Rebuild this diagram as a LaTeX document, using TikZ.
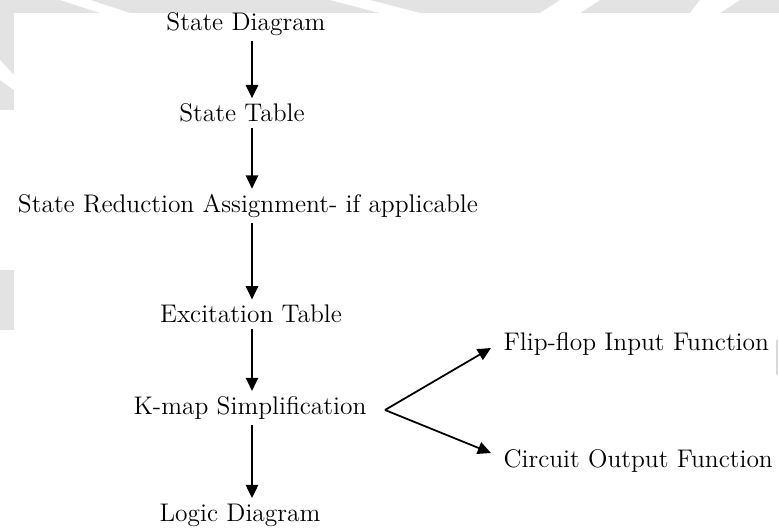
\documentclass[tikz,border=0pt]{standalone}
\usepackage{tikz}
\usetikzlibrary{arrows.meta}

\begin{document}
\begin{tikzpicture}[x=0.02cm,y=-0.02cm,
    lbl/.style={font=\fontsize{14.5}{17}\selectfont, inner sep=3pt},
    arr/.style={line width=1pt, -{Triangle[length=7.5pt,width=7pt]}}]
% background, with the faint watermark on the top and left edges
\fill[white] (0,0) rectangle (779,528);
\fill[gray!22] (0,0) rectangle (779,13);
\fill[gray!22] (0,0) rectangle (14,330);
\fill[white] (60,0) -- (90,0) -- (130,13) -- (100,13) -- cycle;
\fill[white] (330,0) -- (370,0) -- (420,13) -- (380,13) -- cycle;
\fill[white] (560,0) -- (600,0) -- (580,13) -- (540,13) -- cycle;
\fill[white] (700,0) -- (740,0) -- (720,13) -- (690,13) -- cycle;
\fill[white] (0,110) rectangle (14,270);
\fill[white] (0,60) -- (14,75) -- (14,90) -- (0,80) -- cycle;
\draw[gray!30, line width=1pt] (777,340) -- (777,375);

\node[lbl] (sd) at (246,24) {State Diagram};
\node[lbl] (st) at (242,113) {State Table};
\node[lbl] (sr) at (248,206) {State Reduction Assignment- if applicable};
\node[lbl] (et) at (251,314) {Excitation Table};
\node[lbl] (km) at (250,408) {K-map Simplification};
\node[lbl] (ld) at (240,515) {Logic Diagram};
\node[lbl, anchor=west] (ff) at (498,344) {Flip-flop Input Function};
\node[lbl, anchor=west] (co) at (498,461) {Circuit Output Function};

\coordinate (col) at (252,0);
\coordinate (fork) at (385,410);

\draw[arr] (sd.south -| col) -- (st.north -| col);
\draw[arr] (st.south -| col) -- (sr.north -| col);
\draw[arr] (sr.south -| col) -- (et.north -| col);
\draw[arr] (et.south -| col) -- (km.north -| col);
\draw[arr] (km.south -| col) -- (ld.north -| col);

\draw[arr] (fork) -- ([shift={(-7,4)}]ff.west);
\draw[arr] (fork) -- ([shift={(-7,-8)}]co.west);
\end{tikzpicture}
\end{document}
